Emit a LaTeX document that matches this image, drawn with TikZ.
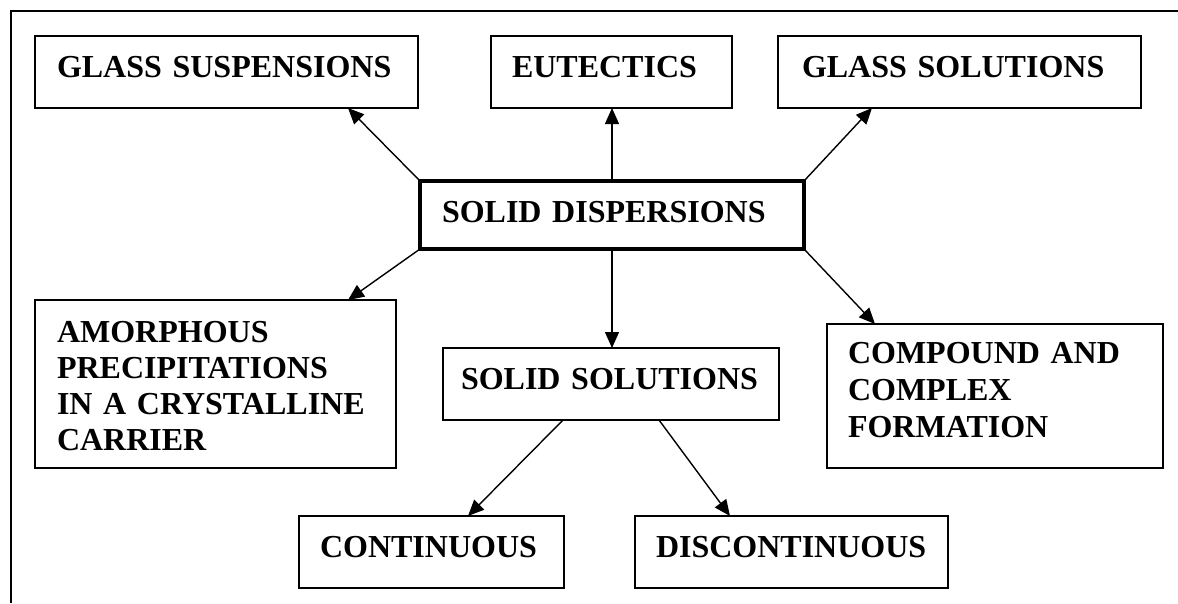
\documentclass[tikz,border=0pt]{standalone}
\usepackage{fontspec}
\setmainfont{Liberation Serif}
\usetikzlibrary{arrows.meta}
\begin{document}
\begin{tikzpicture}[x=1pt,y=-1pt,
  box/.style={draw, line width=1.4pt, anchor=north west, inner ysep=0pt, outer sep=0pt,
    align=left, font=\fontsize{32}{36}\selectfont\bfseries},
  arr/.style={line width=1.4pt, -{Triangle[length=16pt,width=14pt]}},
  frame/.style={line width=2pt}]
\useasboundingbox (0,0) rectangle (1178,603);
\draw[frame] (11,603) -- (11,11) -- (1178,11);

\node[box, inner xsep=22pt, text width=339pt, text height=41pt, text depth=31pt] (gs) at (35,36) {\mbox{GLASS SUSPENSIONS}};
\node[box, inner xsep=21pt, text width=199pt, text height=41pt, text depth=31pt] (eu) at (491,36) {\mbox{EUTECTICS}};
\node[box, line width=1.9pt, inner xsep=24pt, text width=315pt, text height=41pt, text depth=31pt] (gsol) at (778,36) {\mbox{GLASS SOLUTIONS}};
\node[box, line width=4pt, inner xsep=22pt, text width=340pt, text height=41pt, text depth=27pt] (sd) at (420,181) {\mbox{SOLID DISPERSIONS}};
\node[box, inner xsep=22pt, text width=317pt, text height=42pt, text depth=126pt] (am) at (35,300) {AMORPHOUS\\PRECIPITATIONS\\IN A CRYSTALLINE\\CARRIER};
\node[box, inner xsep=18pt, text width=300pt, text height=41pt, text depth=31pt] (ss) at (443,348) {\mbox{SOLID SOLUTIONS}};
\node[box, inner xsep=21pt, text width=294pt, text height=39pt, text depth=105pt, font=\fontsize{32}{37}\selectfont\bfseries] (comp) at (827,324) {COMPOUND AND\\COMPLEX\\FORMATION};
\node[box, inner xsep=21pt, text width=223pt, text height=41pt, text depth=31pt] (cont) at (299,516) {\mbox{CONTINUOUS}};
\node[box, inner xsep=21pt, text width=271pt, text height=41pt, text depth=31pt] (disc) at (635,516) {\mbox{DISCONTINUOUS}};

\draw[arr] (sd.north west) -- ([xshift=-70pt]gs.south east);
\draw[arr] (sd.north) -- (sd.north |- eu.south);
\draw[arr] (sd.north east) -- ([xshift=94pt]gsol.south west);
\draw[arr] (sd.south west) -- ([xshift=-48pt]am.north east);
\draw[arr] (sd.south) -- (sd.south |- ss.north);
\draw[arr] (sd.south east) -- ([xshift=48pt]comp.north west);
\draw[arr] ([xshift=120pt]ss.south west) -- ([xshift=-96pt]cont.north east);
\draw[arr] ([xshift=216pt]ss.south west) -- ([xshift=95pt]disc.north west);
\end{tikzpicture}
\end{document}
